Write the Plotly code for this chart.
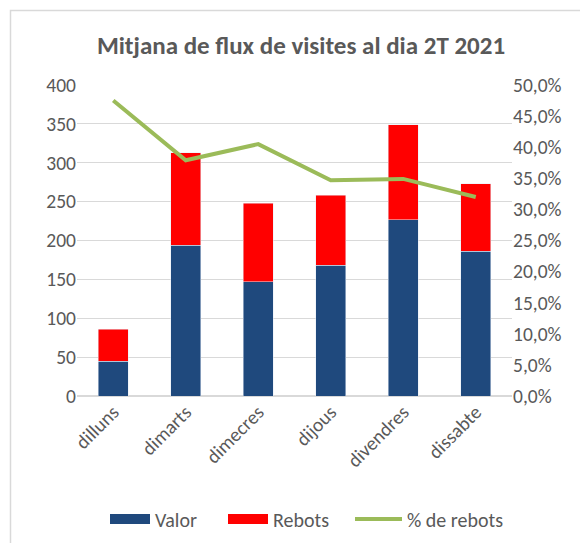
import plotly.graph_objects as go

dies = ["dilluns", "dimarts", "dimecres", "dijous", "divendres", "dissabte"]
valor = [45, 194, 147, 168, 227, 186]
rebots = [41, 119, 101, 90, 122, 87]
pct_rebots = [0.475, 0.379, 0.405, 0.347, 0.349, 0.320]

FONT = "Carlito, Lato, sans-serif"
GRAY = "#595959"
FS = 19.5
C_VALOR, C_REBOTS, C_PCT = "#1f497d", "#ff0000", "#9bbb59"

# page body has an 8px margin, so the figure is drawn in 580x535
W, H = 580, 535
L, R, T, B = 69, 76, 77, 147
pw, ph = W - L - R, H - T - B

fig = go.Figure()
fig.add_trace(go.Bar(x=dies, y=valor, name="Valor", marker_color=C_VALOR, showlegend=False))
fig.add_trace(go.Bar(x=dies, y=rebots, name="Rebots", marker_color=C_REBOTS, showlegend=False))
fig.add_trace(go.Scatter(x=dies, y=pct_rebots, name="% de rebots", yaxis="y2",
                         mode="lines", line=dict(color=C_PCT, width=4), legend="legend3"))
# legend keys drawn as wide rectangles (like the original)
fig.add_trace(go.Scatter(x=[None], y=[None], name="Valor", mode="lines",
                         line=dict(color=C_VALOR, width=15), legend="legend"))
fig.add_trace(go.Scatter(x=[None], y=[None], name="Rebots", mode="lines",
                         line=dict(color=C_REBOTS, width=15), legend="legend2"))

leg_y = -(511 - 388) / ph
def leg(xpx, iw):
    return dict(orientation="h", x=(xpx - L) / pw, xanchor="left", y=leg_y,
                yanchor="middle", itemwidth=iw, bgcolor="rgba(0,0,0,0)",
                font=dict(size=20, color=GRAY, family=FONT))

fig.update_layout(
    width=W, height=H,
    margin=dict(l=L, r=R, t=T, b=B, autoexpand=False),
    barmode="stack", bargap=0.59,
    separators=",.",
    paper_bgcolor="white", plot_bgcolor="white",
    font=dict(family=FONT, color=GRAY, size=FS),
    title=dict(text="<b>Mitjana de flux de visites al dia 2T 2021</b>",
               x=293 / W, xanchor="center", y=1 - 37 / H, yanchor="middle",
               font=dict(size=25, color=GRAY, family=FONT)),
    xaxis=dict(tickangle=-45, showgrid=False, showline=False, ticks="",
               tickfont=dict(size=FS, color=GRAY)),
    yaxis=dict(range=[0, 400], dtick=50, gridcolor="#d9d9d9", gridwidth=1,
               zeroline=True, zerolinecolor="#d9d9d9", showline=False,
               tickfont=dict(size=FS, color=GRAY), ticks="", ticklen=0),
    yaxis2=dict(range=[0, 0.5], dtick=0.05, tickformat=".1%", overlaying="y",
                side="right", showgrid=False, zeroline=False, showline=False,
                tickfont=dict(size=FS, color=GRAY)),
    legend=leg(97, 40),
    legend2=leg(215, 40),
    legend3=leg(342, 47),
    showlegend=True,
    shapes=[dict(type="rect", xref="paper", yref="paper",
                 x0=(2.5 - L) / pw, x1=(W + 20 - L) / pw,
                 y0=-(H + 20 - (H - B)) / ph, y1=(H - B - 2.5) / ph,
                 line=dict(color="#d9d9d9", width=1.5), layer="below")],
)

fig.write_html("out.html")
